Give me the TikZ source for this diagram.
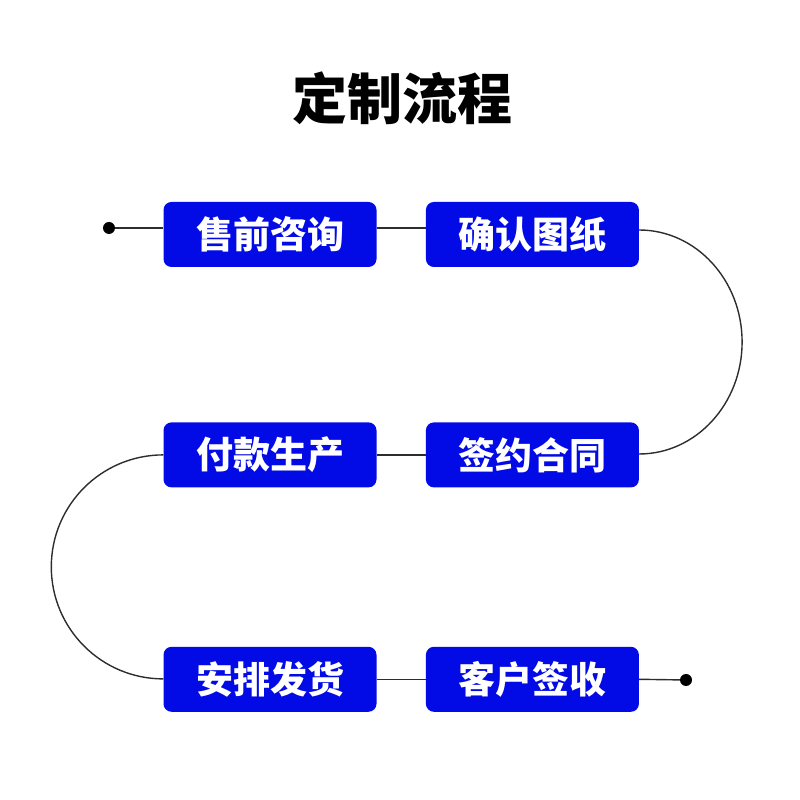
\documentclass[tikz,border=0pt]{standalone}
\usepackage{fontspec}
\newfontfamily\cjk{Noto Sans CJK SC}[BoldFont=* Black]
\usetikzlibrary{positioning}
\definecolor{flowblue}{RGB}{2,10,230}
\definecolor{flowline}{RGB}{45,45,45}

\begin{document}
\begin{tikzpicture}[
      x=1pt,y=1pt,
      box/.style={
        rounded corners=8pt,
        fill=flowblue,
        draw=none,
        text=white,
        align=center,
        minimum width=213pt,
        minimum height=65pt,
        inner sep=0pt,
        font=\cjk\bfseries\fontsize{37}{40}\selectfont
      },
      link/.style={line width=1.4pt,draw=flowline},
      dot/.style={fill=black}
    ]
      \useasboundingbox (0,0) rectangle (800,800);
      \node[font=\cjk\bfseries\fontsize{55}{60}\selectfont] (title) at (402,702) {定制流程};
      \node[box] (consult) at (270,565.5) {售前咨询};
      \node[box,right=49pt of consult] (drawing) {确认图纸};
      \node[box,below=155pt of drawing] (contract) {签约合同};
      \node[box,left=49pt of contract] (payment) {付款生产};
      \node[box,below=159pt of payment] (ship) {安排发货};
      \node[box,right=49pt of ship] (sign) {客户签收};
      \coordinate (start) at (109,572);
      \coordinate (finish) at (686,120);
      % row one
      \draw[link] (start) -- ([yshift=6.5pt]consult.west);
      \draw[link] ([yshift=6.5pt]consult.east) -- ([yshift=6.5pt]drawing.east -| drawing.west);
      \draw[link] ([yshift=4.5pt]drawing.east) arc[start angle=90,end angle=-90,x radius=103,y radius=112];
      % row two
      \draw[link] (contract.west) -- (payment.east);
      \draw[link] (payment.west) arc[start angle=90,end angle=270,radius=112];
      % row three
      \draw[link] (ship.east) -- (sign.west);
      \draw[link] (sign.east) -- (finish);
      \fill[dot] (start) circle (6);
      \fill[dot] (finish) circle (6);
    \end{tikzpicture}
\end{document}
